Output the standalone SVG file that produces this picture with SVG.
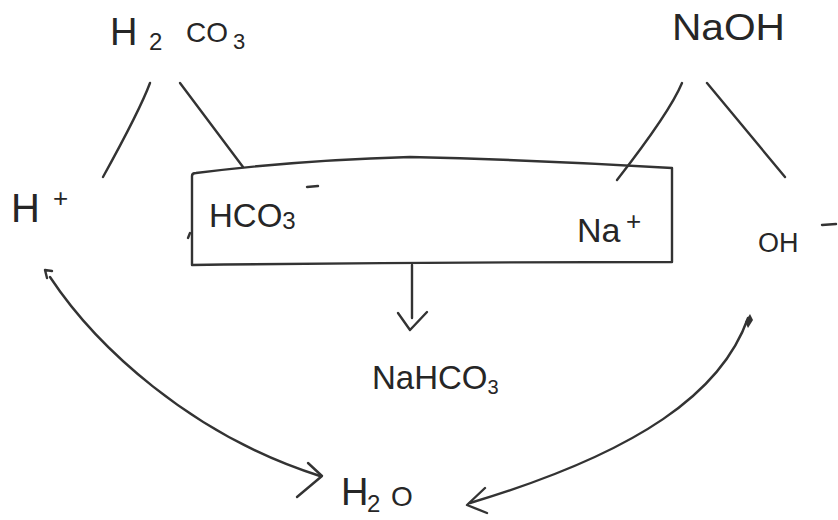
<svg xmlns="http://www.w3.org/2000/svg" width="838" height="520" viewBox="0 0 838 520">
<style>
.t{font-family:"Liberation Sans",Arial,sans-serif;fill:#262626;}
.ln{fill:none;stroke:#333;stroke-width:2.4;stroke-linecap:round;stroke-linejoin:round;}
</style>
<rect width="838" height="520" fill="#fff"/>
<g id="connectors">
<path class="ln" d="M150,83 Q140,110 103,177"/>
<path class="ln" d="M180,83 L243,167"/>
<path class="ln" d="M682,83 Q670,112 617,180"/>
<path class="ln" d="M707,83 L785,177"/>
<path class="ln" d="M412,265 L412,318"/>
<path class="ln" d="M398,313 L410,330 L427,312"/>
<path class="ln" d="M50,277 C95,345 190,435 320,476"/>
<path class="ln" d="M52,271 L45,270 L47,278"/>
<path class="ln" d="M308,463 L322,476 L297,497"/>
<path class="ln" d="M748,318 C722,392 640,452 470,503"/>
<path d="M745,322 L750,314 L753,320 L748,328 Z" fill="#333"/>
<path class="ln" d="M485,488 L467,505 L487,513"/>
</g>
<g id="h2co3">
<text class="t" x="110" y="45" font-size="38">H</text>
<text class="t" x="149" y="50" font-size="24">2</text>
<text class="t" x="186" y="42" font-size="28">CO</text>
<text class="t" x="233" y="49" font-size="22">3</text>
</g>
<g id="naoh">
<text class="t" x="672" y="40" font-size="36" textLength="113" lengthAdjust="spacingAndGlyphs">NaOH</text>
</g>
<g id="hplus">
<text class="t" x="11" y="222" font-size="40">H</text>
<text class="t" x="53" y="207" font-size="26">+</text>
</g>
<g id="ohminus">
<text class="t" x="758" y="252" font-size="27">OH</text>
<path class="ln" d="M822,225 L836,224"/>
</g>
<g id="box">
<path class="ln" d="M192,265 L192,176 Q192,173 196,173 Q300,160 410,157 Q540,160 672,168 L672,262 M192,265 Q430,262 672,262"/>
<path class="ln" d="M188,238 L190,233"/>
<text class="t" x="209" y="227" font-size="33">HCO<tspan font-size="24" dy="2">3</tspan></text>
<path class="ln" d="M307,187 L318,186"/>
<text class="t" x="577" y="242" font-size="34">Na</text>
<text class="t" x="626" y="230" font-size="26">+</text>
</g>
<g id="nahco3">
<text class="t" x="372" y="389" font-size="33">NaHCO<tspan font-size="20" dy="5">3</tspan></text>
</g>
<g id="h2o">
<text class="t" x="341" y="505" font-size="38">H</text>
<text class="t" x="367" y="512" font-size="24">2</text>
<text class="t" x="391" y="506" font-size="28">O</text>
</g>
</svg>
